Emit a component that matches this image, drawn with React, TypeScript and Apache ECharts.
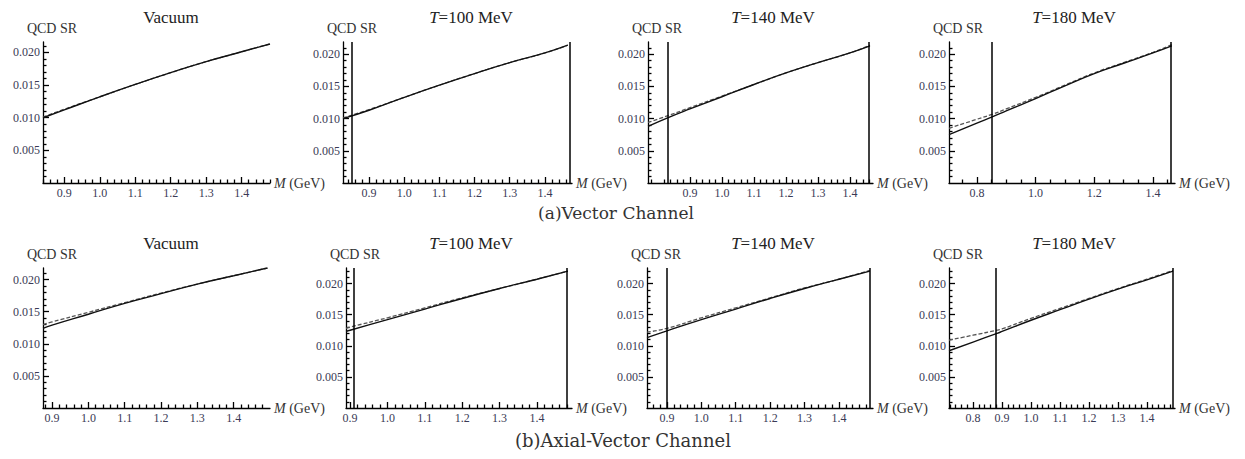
import React, { useEffect, useRef } from "react";
import * as echarts from "echarts";

// ---------- Data ----------
const panelTitles = ["Vacuum", "{i|T}=100 MeV", "{i|T}=140 MeV", "{i|T}=180 MeV"];
const captions = ["(a)Vector Channel", "(b)Axial-Vector Channel"];
const yTickValues = [0.005, 0.01, 0.015, 0.02];
const xTicksFine = [0.9, 1.0, 1.1, 1.2, 1.3, 1.4];
const xTicksWide = [0.8, 1.0, 1.2, 1.4];
const xTicksB4 = [0.8, 0.9, 1.0, 1.1, 1.2, 1.3, 1.4];

// Row (a) Vector channel
const xRangeA = [[0.84, 1.48], [0.826, 1.477], [0.769, 1.472], [0.705, 1.475]];
const yMaxA = [0.0216, 0.0219, 0.0219, 0.0219];
const windowA = [null, [0.855, 1.465], [0.834, 1.4625], [0.854, 1.464]];

const mA1 = [0.84, 0.9, 1.0, 1.1, 1.2, 1.3, 1.4, 1.48];
const solidA1 = [0.01, 0.0112, 0.0132, 0.0151, 0.0169, 0.0186, 0.0201, 0.0213];
const dashA1 = [0.0101, 0.0113, 0.0132, 0.0151, 0.0169, 0.0186, 0.0201, 0.0213];

const mA2 = [0.826, 0.9, 1.0, 1.1, 1.2, 1.3, 1.4, 1.465];
const solidA2 = [0.01, 0.0113, 0.0133, 0.0152, 0.017, 0.0187, 0.0202, 0.0214];
const dashA2 = [0.0101, 0.0114, 0.0133, 0.0152, 0.017, 0.0187, 0.0202, 0.0214];

const mA3 = [0.769, 0.834, 0.9, 1.0, 1.1, 1.2, 1.3, 1.4, 1.4625];
const solidA3 = [0.0088, 0.0102, 0.0115, 0.0134, 0.0153, 0.0171, 0.0187, 0.0202, 0.0213];
const dashA3 = [0.0094, 0.0105, 0.0117, 0.0135, 0.0153, 0.0171, 0.0187, 0.0202, 0.0214];

const mA4 = [0.705, 0.8, 0.854, 0.9, 1.0, 1.1, 1.2, 1.3, 1.4, 1.464];
const solidA4 = [0.0075, 0.0093, 0.0103, 0.0112, 0.0131, 0.0151, 0.017, 0.0186, 0.0202, 0.0213];
const dashA4 = [0.0085, 0.0099, 0.0107, 0.0115, 0.0133, 0.0152, 0.0171, 0.0187, 0.0203, 0.0215];

// Row (b) Axial-vector channel
const xRangeB = [[0.875, 1.5], [0.889, 1.494], [0.842, 1.499], [0.717, 1.497]];
const yMaxB = [0.0218, 0.0225, 0.0225, 0.0225];
const windowB = [null, [0.905, 1.483], [0.9, 1.49], [0.883, 1.49]];

const mB1 = [0.875, 0.9, 1.0, 1.1, 1.2, 1.3, 1.4, 1.493];
const solidB1 = [0.0124, 0.0129, 0.0146, 0.0163, 0.0178, 0.0193, 0.0206, 0.0218];
const dashB1 = [0.013, 0.0134, 0.0149, 0.0164, 0.0179, 0.0193, 0.0206, 0.0218];

const mB2 = [0.889, 0.9, 1.0, 1.1, 1.2, 1.3, 1.4, 1.483];
const solidB2 = [0.0123, 0.0125, 0.0142, 0.0159, 0.0176, 0.0192, 0.0207, 0.022];
const dashB2 = [0.0128, 0.013, 0.0145, 0.0161, 0.0177, 0.0192, 0.0207, 0.022];

const mB3 = [0.842, 0.9, 1.0, 1.1, 1.2, 1.3, 1.4, 1.49];
const solidB3 = [0.0113, 0.0124, 0.0142, 0.0159, 0.0176, 0.0192, 0.0207, 0.022];
const dashB3 = [0.0122, 0.0128, 0.0145, 0.0161, 0.0177, 0.0193, 0.0207, 0.0221];

const mB4 = [0.717, 0.8, 0.883, 0.9, 1.0, 1.1, 1.2, 1.3, 1.4, 1.49];
const solidB4 = [0.0092, 0.0106, 0.012, 0.0123, 0.0141, 0.0158, 0.0175, 0.0191, 0.0206, 0.022];
const dashB4 = [0.0109, 0.0117, 0.0125, 0.0127, 0.0144, 0.016, 0.0176, 0.0192, 0.0207, 0.0221];

// ---------- Layout ----------
const gridLeftA = [43, 343, 648, 949];
const gridRightA = [270, 572, 873, 1175];
const gridLeftB = [43, 346, 647, 949];
const gridRightB = [270, 572, 873, 1175];
const rowTop = [42, 268];
const rowHeight = [141, 140];
const titleX = [171, 471, 773, 1074];
const titleY = [17, 243];
const captionX = [616, 623];
const captionY = [213, 440];

const SERIF = "Liberation Serif";
const TICK_COLOR = "#3a3a55";

function minorValues(min: number, max: number, step: number, majorStep: number) {
  const out: number[] = [];
  const start = Math.ceil(min / step - 1e-9);
  const end = Math.floor(max / step + 1e-9);
  for (let k = start; k <= end; k++) {
    const v = +(k * step).toFixed(6);
    const r = v / majorStep;
    if (Math.abs(r - Math.round(r)) < 1e-6) continue;
    out.push(v);
  }
  return out;
}

const pairs = (xs: number[], ys: number[]) => xs.map((x, i) => [x, ys[i]]);

export default function App() {
  const ref = useRef<HTMLDivElement>(null);

  useEffect(() => {
    if (!ref.current) return;
    const chart = echarts.init(ref.current, undefined, { renderer: "svg" });

    const panels = [
      { row: 0, col: 0, range: xRangeA[0], yMax: yMaxA[0], win: windowA[0], ticks: xTicksFine, minorStep: 0.02, majorStep: 0.1, m: mA1, s: solidA1, d: dashA1 },
      { row: 0, col: 1, range: xRangeA[1], yMax: yMaxA[1], win: windowA[1], ticks: xTicksFine, minorStep: 0.02, majorStep: 0.1, m: mA2, s: solidA2, d: dashA2 },
      { row: 0, col: 2, range: xRangeA[2], yMax: yMaxA[2], win: windowA[2], ticks: xTicksFine, minorStep: 0.02, majorStep: 0.1, m: mA3, s: solidA3, d: dashA3 },
      { row: 0, col: 3, range: xRangeA[3], yMax: yMaxA[3], win: windowA[3], ticks: xTicksWide, minorStep: 0.05, majorStep: 0.2, m: mA4, s: solidA4, d: dashA4 },
      { row: 1, col: 0, range: xRangeB[0], yMax: yMaxB[0], win: windowB[0], ticks: xTicksFine, minorStep: 0.02, majorStep: 0.1, m: mB1, s: solidB1, d: dashB1 },
      { row: 1, col: 1, range: xRangeB[1], yMax: yMaxB[1], win: windowB[1], ticks: xTicksFine, minorStep: 0.02, majorStep: 0.1, m: mB2, s: solidB2, d: dashB2 },
      { row: 1, col: 2, range: xRangeB[2], yMax: yMaxB[2], win: windowB[2], ticks: xTicksFine, minorStep: 0.02, majorStep: 0.1, m: mB3, s: solidB3, d: dashB3 },
      { row: 1, col: 3, range: xRangeB[3], yMax: yMaxB[3], win: windowB[3], ticks: xTicksB4, minorStep: 0.02, majorStep: 0.1, m: mB4, s: solidB4, d: dashB4 },
    ];

    const grids: any[] = [];
    const xAxes: any[] = [];
    const yAxes: any[] = [];
    const series: any[] = [];
    const graphics: any[] = [];

    panels.forEach((p, i) => {
      const left = p.row === 0 ? gridLeftA[p.col] : gridLeftB[p.col];
      const right = p.row === 0 ? gridRightA[p.col] : gridRightB[p.col];
      grids.push({ left, top: rowTop[p.row], width: right - left, height: rowHeight[p.row] });

      xAxes.push({
        type: "value",
        gridIndex: i,
        position: "bottom",
        min: p.range[0],
        max: p.range[1],
        axisLine: { show: true, onZero: false, lineStyle: { color: "#000", width: 1.3 } },
        axisTick: { show: true, inside: true, length: 6, customValues: p.ticks, lineStyle: { color: "#000", width: 1.3 } },
        axisLabel: {
          customValues: p.ticks,
          formatter: (v: number) => v.toFixed(1),
          fontFamily: SERIF,
          fontSize: 12,
          color: TICK_COLOR,
          margin: 4,
        },
        splitLine: { show: false },
        name: "{i|M}{n| (GeV)}",
        nameLocation: "end",
        nameGap: 4,
        nameTextStyle: {
          fontFamily: SERIF,
          fontSize: 14,
          color: "#333",
          rich: {
            i: { fontFamily: SERIF, fontSize: 14, fontStyle: "italic", color: "#333" },
            n: { fontFamily: SERIF, fontSize: 14, color: "#333" },
          },
        },
      });
      xAxes.push({
        type: "value",
        gridIndex: i,
        position: "bottom",
        min: p.range[0],
        max: p.range[1],
        axisLine: { show: false, onZero: false },
        axisTick: {
          show: true,
          inside: true,
          length: 3.5,
          customValues: minorValues(p.range[0], p.range[1], p.minorStep, p.majorStep),
          lineStyle: { color: "#000", width: 1.3 },
        },
        axisLabel: { show: false },
        splitLine: { show: false },
      });

      yAxes.push({
        type: "value",
        gridIndex: i,
        position: "left",
        min: 0,
        max: p.yMax,
        axisLine: { show: true, onZero: false, lineStyle: { color: "#000", width: 1.3 } },
        axisTick: { show: true, inside: true, length: 6, customValues: yTickValues, lineStyle: { color: "#000", width: 1.3 } },
        axisLabel: {
          customValues: yTickValues,
          formatter: (v: number) => v.toFixed(3),
          fontFamily: SERIF,
          fontSize: 12,
          color: TICK_COLOR,
          margin: 3,
        },
        splitLine: { show: false },
        name: "QCD SR",
        nameLocation: "end",
        nameGap: 7,
        nameTextStyle: { fontFamily: SERIF, fontSize: 14, color: "#333", align: "center", padding: [0, 0, 0, 18] },
      });
      yAxes.push({
        type: "value",
        gridIndex: i,
        position: "left",
        min: 0,
        max: p.yMax,
        axisLine: { show: false, onZero: false },
        axisTick: {
          show: true,
          inside: true,
          length: 3.5,
          customValues: minorValues(0, p.yMax, 0.001, 0.005).filter((v) => v > 0),
          lineStyle: { color: "#000", width: 1.3 },
        },
        axisLabel: { show: false },
        splitLine: { show: false },
      });

      const markLine = p.win
        ? {
            silent: true,
            symbol: "none",
            label: { show: false },
            lineStyle: { color: "#000", width: 1.5, type: "solid" },
            data: p.win.map((v) => ({ xAxis: v })),
          }
        : undefined;

      series.push({
        type: "line",
        xAxisIndex: 2 * i,
        yAxisIndex: 2 * i,
        data: pairs(p.m, p.d),
        smooth: true,
        showSymbol: false,
        lineStyle: { color: "#555", width: 1.3, type: [4, 2] },
        z: 3,
      });
      series.push({
        type: "line",
        xAxisIndex: 2 * i,
        yAxisIndex: 2 * i,
        data: pairs(p.m, p.s),
        smooth: true,
        showSymbol: false,
        lineStyle: { color: "#111", width: 1.4 },
        markLine,
        z: 4,
      });

      graphics.push({
        type: "text",
        x: titleX[p.col],
        y: titleY[p.row],
        style: {
          text: panelTitles[p.col],
          fontFamily: SERIF,
          fontSize: 17,
          fill: "#222",
          align: "center",
          verticalAlign: "middle",
          rich: { i: { fontFamily: SERIF, fontSize: 17, fontStyle: "italic", fill: "#222" } },
        },
      });
    });

    captions.forEach((c, r) => {
      graphics.push({
        type: "text",
        x: captionX[r],
        y: captionY[r],
        style: {
          text: c,
          fontFamily: "DejaVu Serif",
          fontSize: r === 0 ? 17 : 18,
          fill: "#333",
          align: "center",
          verticalAlign: "middle",
        },
      });
    });

    chart.setOption({
      animation: false,
      backgroundColor: "#fff",
      grid: grids,
      xAxis: xAxes,
      yAxis: yAxes,
      series,
      graphic: graphics,
    });

    return () => chart.dispose();
  }, []);

  return (
    <div
      ref={ref}
      style={{ position: "fixed", left: 0, top: 0, width: 1245, height: 459, background: "#fff" }}
    />
  );
}
